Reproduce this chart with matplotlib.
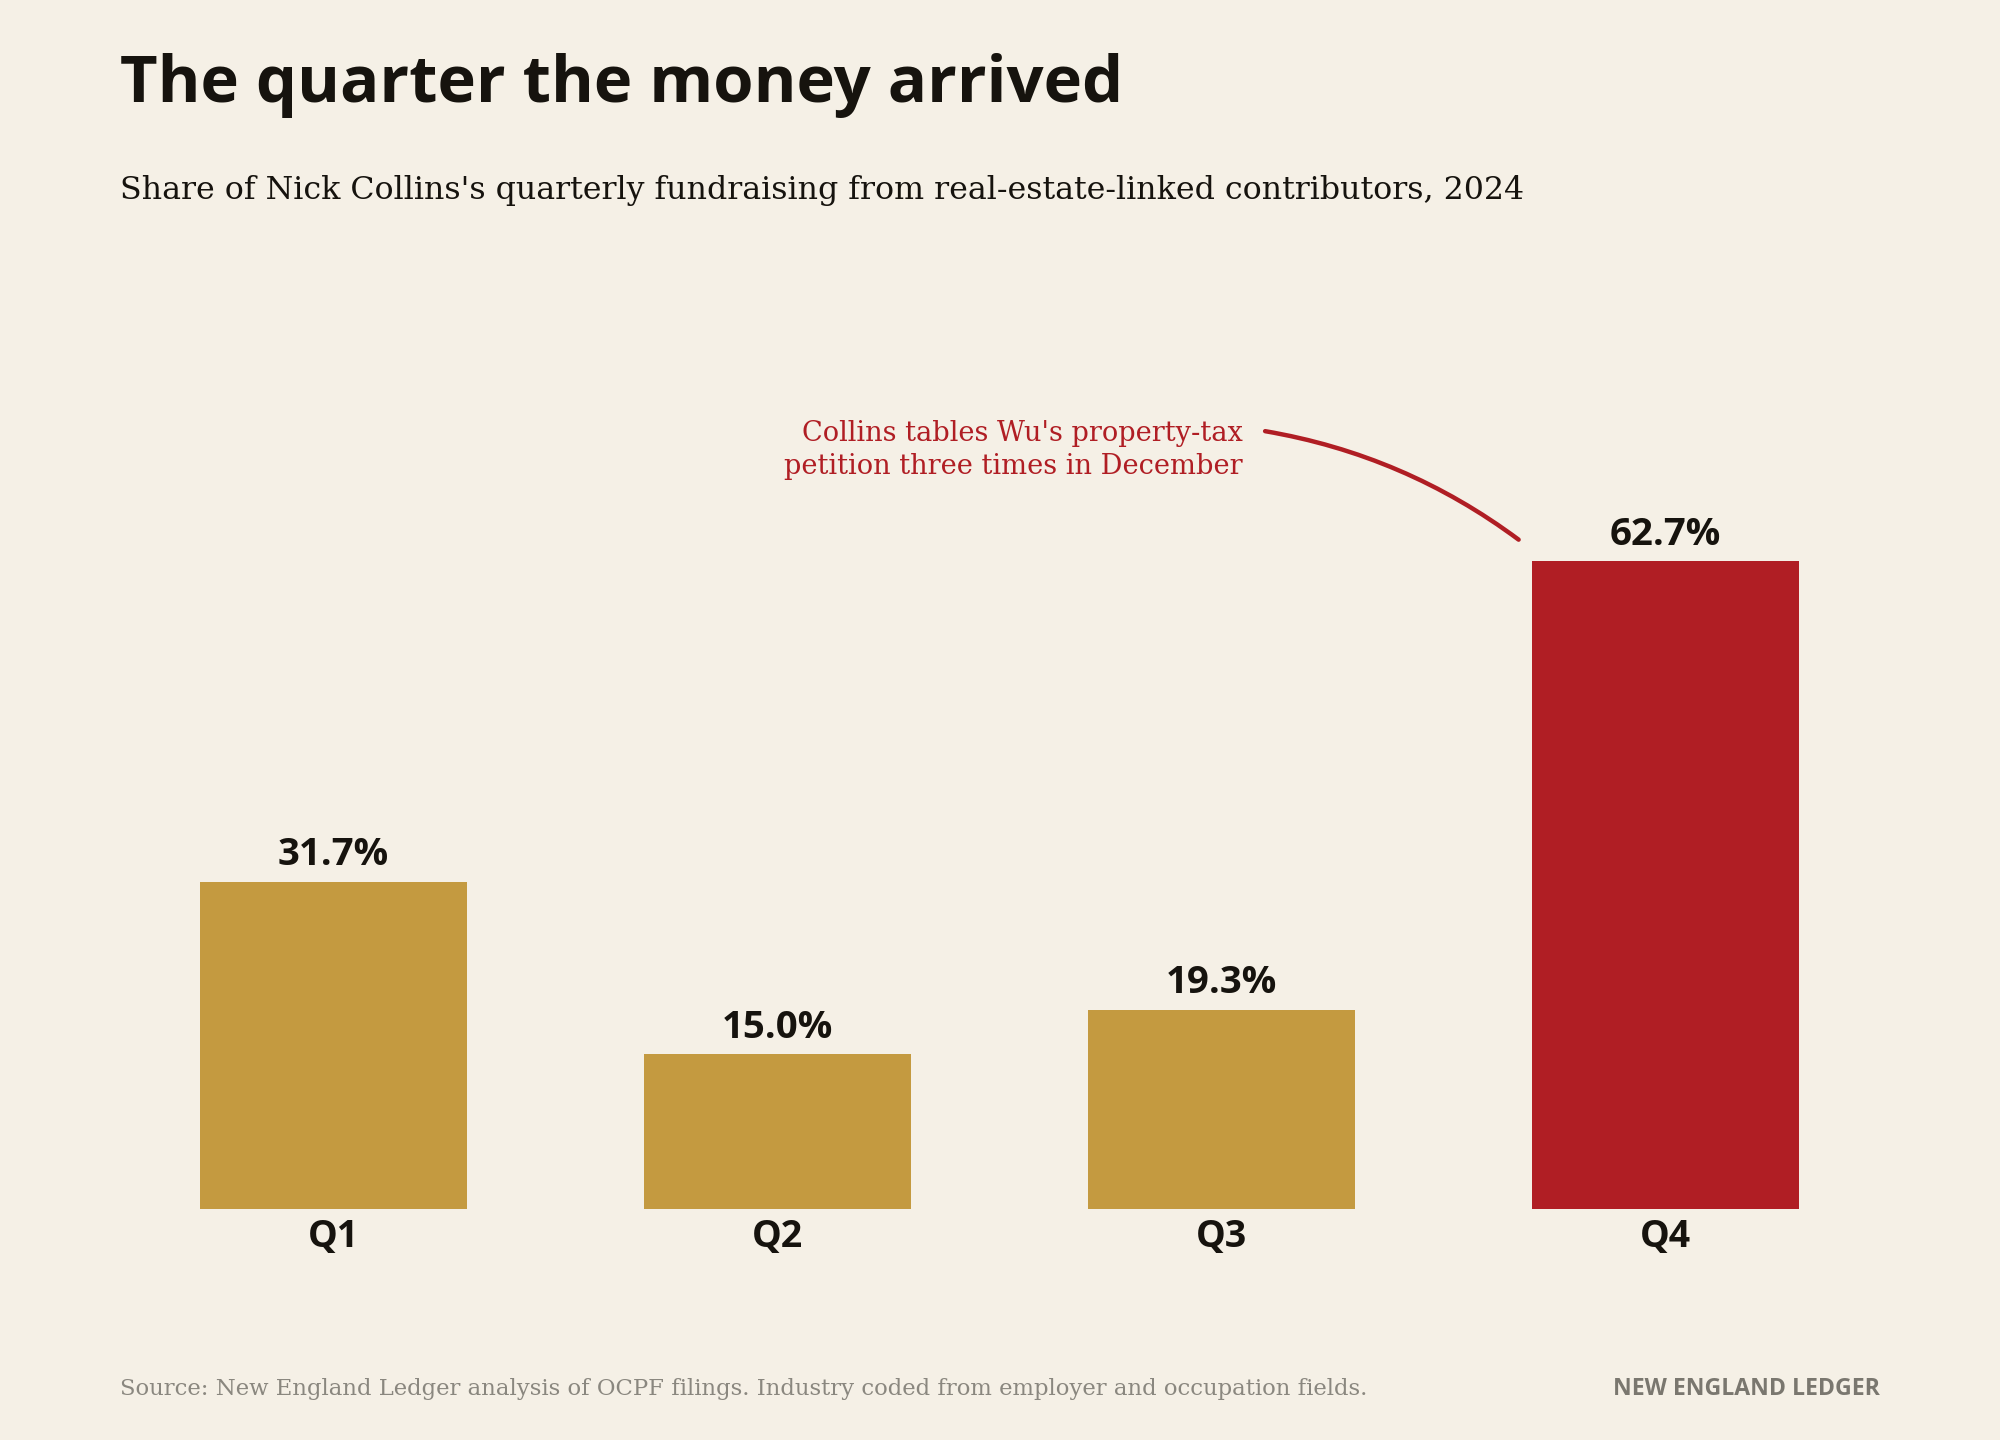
import matplotlib
matplotlib.use('Agg')
import matplotlib.pyplot as plt

# 数据
quarters = ['Q1', 'Q2', 'Q3', 'Q4']
shares = [31.7, 15.0, 19.3, 62.7]
highlight = 'Q4'

BG = '#f5f0e6'
C_GOLD = '#c49a40'
C_RED = '#b01e24'
C_INK = '#16130e'
C_GRAY = '#8a877f'
C_BRAND = '#7a776f'

SANS = ['Open Sans', 'DejaVu Sans']
SERIF = ['DejaVu Serif']

fig = plt.figure(figsize=(10, 7.2), dpi=200, facecolor=BG)
ax = fig.add_axes([0.0558, 0.1603, 0.888, 0.574])
ax.set_facecolor(BG)

colors = [C_RED if q == highlight else C_GOLD for q in quarters]
x = list(range(len(quarters)))
ax.bar(x, shares, width=0.6, color=colors)

for xi, v in zip(x, shares):
    ax.annotate(f'{v:.1f}%', xy=(xi, v), xytext=(0, 6), textcoords='offset points',
                ha='center', va='baseline', fontsize=13.8, fontweight='bold',
                family=SANS, color=C_INK)

ax.set_xlim(-0.5, 3.5)
ax.set_ylim(0, 80)
ax.set_xticks(x)
ax.set_xticklabels(quarters, fontsize=13.5, fontweight='bold', family=SANS, color=C_INK)
ax.tick_params(axis='x', length=0, pad=3)
ax.set_yticks([])
for s in ax.spines.values():
    s.set_visible(False)

# 注释
qi = quarters.index(highlight)
ax.text(qi - 0.953, shares[qi] + 10.8, "Collins tables Wu's property-tax\npetition three times in December",
        ha='right', va='center', fontsize=9.8, family=SERIF, color=C_RED, linespacing=1.3)
ax.annotate('', xy=(qi - 0.331, shares[qi] + 2.1), xytext=(qi - 0.902, shares[qi] + 12.6),
            arrowprops=dict(arrowstyle='-', connectionstyle='arc3,rad=-0.12',
                            color=C_RED, lw=1.6, shrinkA=0, shrinkB=0))

fig.text(0.06, 0.929, 'The quarter the money arrived', fontsize=23.5, fontweight='bold',
         family=SANS, color=C_INK, va='baseline')
fig.text(0.06, 0.862, "Share of Nick Collins's quarterly fundraising from real-estate-linked contributors, 2024",
         fontsize=11.4, family=SERIF, color=C_INK, va='baseline')
fig.text(0.06, 0.031, 'Source: New England Ledger analysis of OCPF filings. Industry coded from employer and occupation fields.',
         fontsize=8.2, family=SERIF, color=C_GRAY, va='baseline')
fig.text(0.94, 0.031, 'NEW ENGLAND LEDGER', fontsize=8.3, fontweight='bold',
         family=SANS, color=C_BRAND, va='baseline', ha='right')

fig.savefig('out.png', dpi=200, facecolor=BG)
